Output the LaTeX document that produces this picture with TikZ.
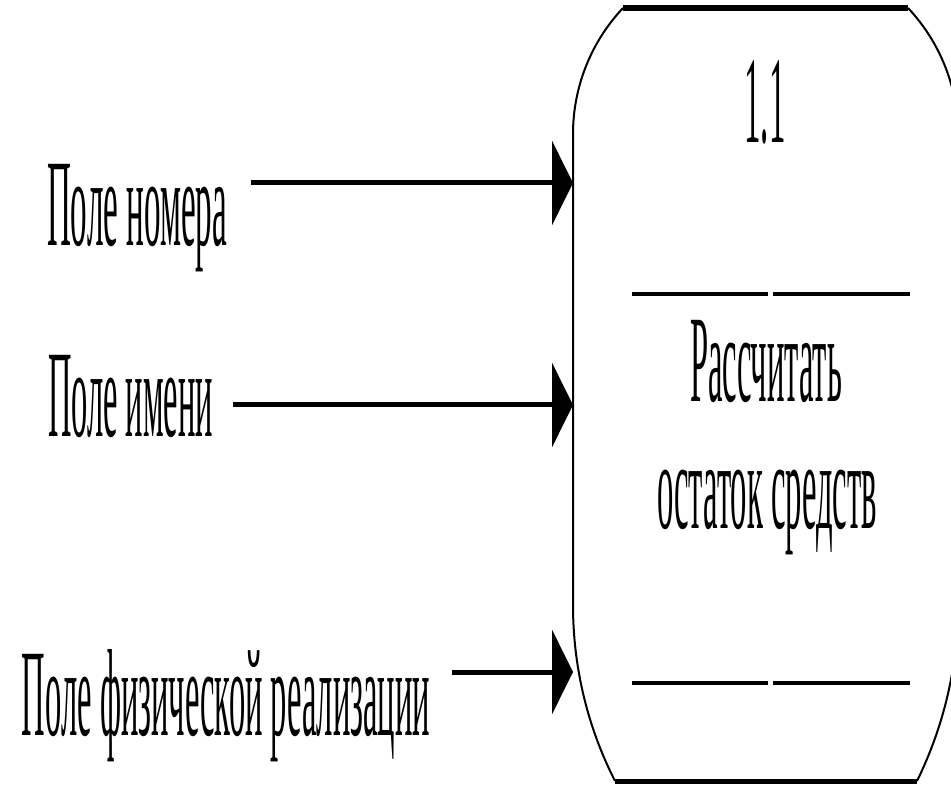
\documentclass[tikz,border=0pt]{standalone}
\usepackage{fontspec}
\setmainfont{Liberation Serif}
\usetikzlibrary{arrows.meta}
\newcommand{\sqz}[2]{\resizebox{#1}{\height}{\fontsize{124}{124}\selectfont #2}}
\tikzset{
  lbl/.style={anchor=base west, inner sep=0pt, outer sep=0pt},
  flow/.style={line width=5pt, -{Triangle[length=21pt,width=84pt]}},
  edge/.style={line width=2pt},
  sep/.style={line width=4pt},
}
\begin{document}
\begin{tikzpicture}[x=1pt,y=-1pt]
\useasboundingbox (0,0) rectangle (951,786);
% process box (invisible frame for anchors)
\node (proc) [minimum width=385pt, minimum height=773pt, inner sep=0pt, outer sep=0pt] at (765.5,394.5) {};
% outline
\draw[line width=6pt] (623,8) -- (908,8);
\draw[line width=5pt] (615,781) -- (917,781);
\draw[edge] (623,8) .. controls (591,42) and (573,87) .. (573,134)
  -- (573,605) .. controls (573,666) and (587,726) .. (615,781);
\draw[edge] (908,8) .. controls (940,42) and (958,87) .. (958,134)
  -- (958,605) .. controls (958,666) and (944,726) .. (917,781);
% separators
\draw[sep] (632,294) -- (768,294);
\draw[sep] (773,294) -- (910,294);
\draw[sep] (632,683) -- (768,683);
\draw[sep] (773,683) -- (910,683);
% texts in box
\node[lbl] (num) at (744.5,143) {\sqz{41pt}{1.1}};
\node[lbl] (t1) at (690,402) {\sqz{152pt}{Рассчитать}};
\node[lbl] (t2) at (657,528) {\sqz{220pt}{остаток средств}};
% input labels
\node[lbl] (l1) at (47,246) {\sqz{180pt}{Поле номера}};
\node[lbl] (l2) at (48,437) {\sqz{165pt}{Поле имени}};
\node[lbl] (l3) at (22,735) {\sqz{408pt}{Поле физической реализации}};
% arrows
\coordinate (s1) at (251,183);
\coordinate (s2) at (233,405);
\coordinate (s3) at (452,672);
\draw[flow] (s1) -- (s1 -| proc.west);
\draw[flow] (s2) -- (s2 -| proc.west);
\draw[flow] (s3) -- (s3 -| proc.west);
\end{tikzpicture}
\end{document}
